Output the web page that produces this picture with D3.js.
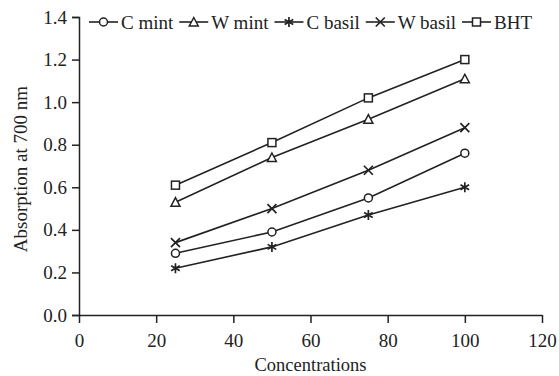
<!DOCTYPE html>
<html>
<head>
<meta charset="utf-8">
<script src="https://d3js.org/d3.v7.min.js"></script>
<style>
  body { margin: 0; background: #fff; }
  text { font-family: "Liberation Serif", "Times New Roman", serif; fill: #222; }
  .axis path, .axis line { stroke: #222; stroke-width: 1.5px; }
</style>
</head>
<body>
<div id="chart"></div>
<script>
// data
var concentrations = [25, 50, 75, 100];
var seriesNames = ["C mint", "W mint", "C basil", "W basil", "BHT"];
var cMint  = [0.29, 0.39, 0.55, 0.76];
var wMint  = [0.53, 0.74, 0.92, 1.11];
var cBasil = [0.22, 0.32, 0.47, 0.60];
var wBasil = [0.34, 0.50, 0.68, 0.88];
var bht    = [0.61, 0.81, 1.02, 1.20];
var xTicks = [0, 20, 40, 60, 80, 100, 120];
var yTicks = [0, 0.2, 0.4, 0.6, 0.8, 1.0, 1.2, 1.4];

var series = [
  { name: seriesNames[0], values: cMint,  symbol: "circle" },
  { name: seriesNames[1], values: wMint,  symbol: "triangle" },
  { name: seriesNames[2], values: cBasil, symbol: "star" },
  { name: seriesNames[3], values: wBasil, symbol: "cross" },
  { name: seriesNames[4], values: bht,    symbol: "square" }
];

var W = 559, H = 376;
var margin = { top: 17, right: 17, bottom: 61, left: 79 },
    width = W - margin.left - margin.right,
    height = H - margin.top - margin.bottom;

var svg = d3.select("#chart").append("svg")
  .attr("width", W).attr("height", H);

var g = svg.append("g")
  .attr("transform", "translate(" + margin.left + "," + margin.top + ")");

var x = d3.scaleLinear().domain([0, 120]).range([0, width]);
var y = d3.scaleLinear().domain([0, 1.4]).range([height, 0]);

// axes
var xAxis = g.append("g").attr("class", "axis")
  .attr("transform", "translate(0," + height + ")")
  .call(d3.axisBottom(x).tickValues(xTicks).tickSize(8).tickSizeOuter(0).tickPadding(11));
xAxis.selectAll("text").style("font-size", "19px");

var yAxis = g.append("g").attr("class", "axis")
  .call(d3.axisLeft(y).tickValues(yTicks).tickFormat(d3.format(".1f")).tickSize(7).tickSizeOuter(7).tickPadding(5));
yAxis.selectAll("text").style("font-size", "19px");

g.append("text")
  .attr("x", width / 2).attr("y", height + 56)
  .attr("text-anchor", "middle")
  .style("font-size", "18.5px")
  .text("Concentrations");

g.append("text")
  .attr("transform", "translate(" + (-52) + "," + (height / 2 + 3) + ") rotate(-90)")
  .attr("text-anchor", "middle")
  .style("font-size", "19px")
  .text("Absorption at 700 nm");

// marker drawing
function drawMarker(sel, symbol) {
  var s = 4;
  if (symbol === "circle") {
    sel.append("circle").attr("r", s).attr("fill", "#fff").attr("stroke", "#222").attr("stroke-width", 1.5);
  } else if (symbol === "square") {
    sel.append("rect").attr("x", -s).attr("y", -s).attr("width", 2 * s).attr("height", 2 * s)
      .attr("fill", "#fff").attr("stroke", "#222").attr("stroke-width", 1.5);
  } else if (symbol === "triangle") {
    sel.append("path").attr("d", "M0,-4.5L4.5,4L-4.5,4Z")
      .attr("fill", "#fff").attr("stroke", "#222").attr("stroke-width", 1.5);
  } else if (symbol === "cross") {
    sel.append("path").attr("d", "M-4.5,-4.5L4.5,4.5M-4.5,4.5L4.5,-4.5")
      .attr("stroke", "#222").attr("stroke-width", 1.7);
  } else if (symbol === "star") {
    sel.append("path").attr("d", "M0,-5L0,5M-4.3,-2.5L4.3,2.5M-4.3,2.5L4.3,-2.5")
      .attr("stroke", "#222").attr("stroke-width", 1.7);
  }
}

var line = d3.line()
  .x(function (d, i) { return x(concentrations[i]); })
  .y(function (d) { return y(d); });

series.forEach(function (s) {
  g.append("path")
    .datum(s.values)
    .attr("fill", "none")
    .attr("stroke", "#222")
    .attr("stroke-width", 1.6)
    .attr("d", line);

  g.selectAll(null)
    .data(s.values)
    .enter().append("g")
    .attr("transform", function (d, i) { return "translate(" + x(concentrations[i]) + "," + y(d) + ")"; })
    .each(function () { drawMarker(d3.select(this), s.symbol); });
});

// legend
var legend = svg.append("g").attr("transform", "translate(89,22)");
var lx = 0;
series.forEach(function (s) {
  var item = legend.append("g").attr("transform", "translate(" + lx + ",0)");
  item.append("line").attr("x1", 0).attr("x2", 29).attr("y1", 0).attr("y2", 0)
    .attr("stroke", "#222").attr("stroke-width", 1.6);
  drawMarker(item.append("g").attr("transform", "translate(14.5,0)"), s.symbol);
  var t = item.append("text").attr("x", 32).attr("y", 6.5)
    .style("font-size", "19px").text(s.name);
  lx += 32 + t.node().getComputedTextLength() + 6;
});
</script>
</body>
</html>
